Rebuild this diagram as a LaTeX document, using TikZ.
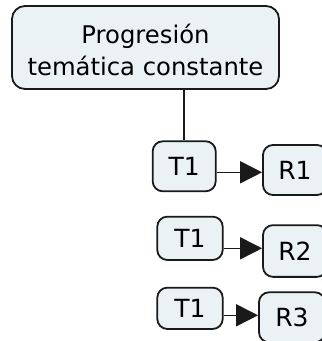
\documentclass[tikz,border=0pt]{standalone}
\usepackage{fontspec}
\setmainfont{DejaVu Sans}
\usetikzlibrary{arrows.meta}
\definecolor{boxfill}{HTML}{EAF2F5}
\definecolor{boxline}{HTML}{1A1A1A}
\tikzset{
  box/.style={draw=boxline, fill=boxfill, line width=1.8pt, rounded corners=10pt,
    inner sep=0pt, font=\fontsize{25}{30}\selectfont, text=black},
  conn/.style={draw=boxline, line width=1.6pt},
  arr/.style={conn, -{Triangle[length=22pt,width=22pt]}}
}
\begin{document}
\begin{tikzpicture}[x=1pt,y=-1pt]
\useasboundingbox (0,0) rectangle (322,341);
\clip (0,0) rectangle (322,341);
\node[box, rounded corners=13pt, minimum width=267pt, minimum height=83pt] (top) at (145.5,47.5) {};
\node[align=center, inner sep=0pt, font=\fontsize{24.3}{32}\selectfont] (toptext) at (145.5,50) {Progresión\\temática constante};
\node[box, minimum width=63pt, minimum height=50pt] (t1) at (184.2,166.3) {T1};
\node[box, minimum width=64pt, minimum height=50pt] (r1) at (295,170) {R1};
\node[box, minimum width=65.4pt, minimum height=43.3pt] (t2) at (190,238.3) {T1};
\node[box, minimum width=64pt, minimum height=51.7pt] (r2) at (295,251) {R2};
\node[box, minimum width=65.4pt, minimum height=41.3pt] (t3) at (190,308.3) {T1};
\node[box, minimum width=66pt, minimum height=50pt] (r3) at (292,317.3) {R3};
\draw[conn] (t1.north |- top.south) -- (t1.north);
\draw[arr] ([yshift=-6pt]t1.east) -- ([yshift=-6pt]t1.east -| r1.west);
\draw[arr] ([yshift=-10pt]t2.east) -- ([yshift=-10pt]t2.east -| r2.west);
\draw[arr] ([yshift=-7pt]t3.east) -- ([yshift=-7pt]t3.east -| r3.west);
\end{tikzpicture}
\end{document}
